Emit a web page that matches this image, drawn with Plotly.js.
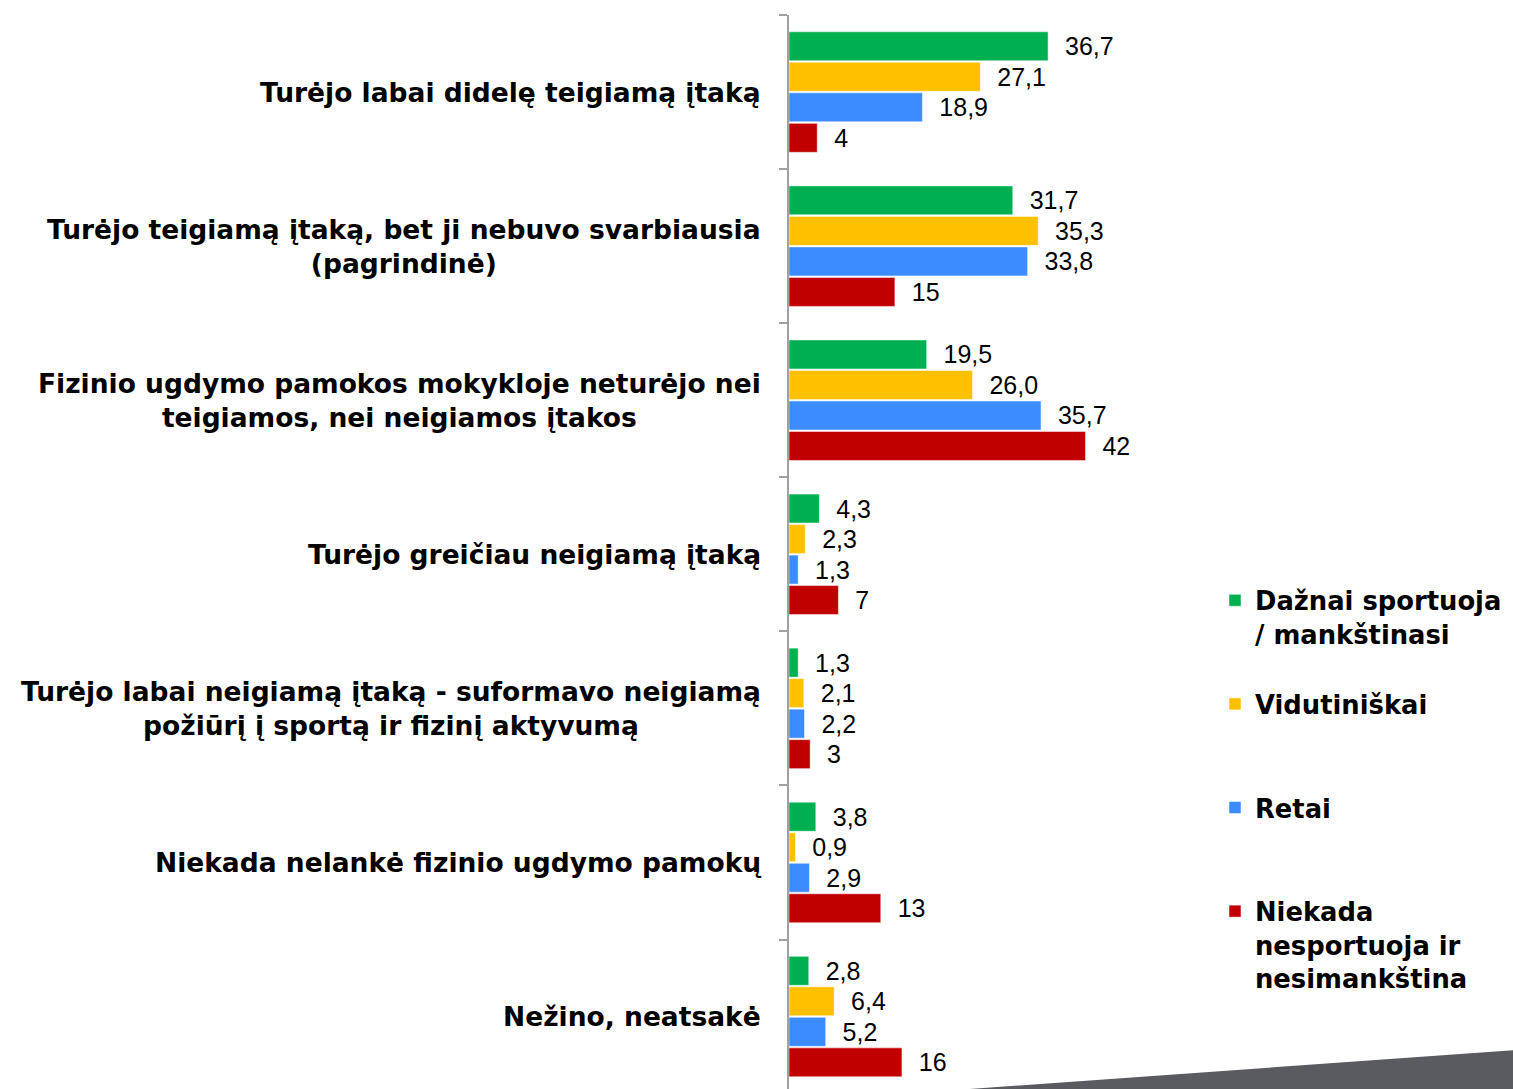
<!DOCTYPE html>
<html><head><meta charset="utf-8">
<script src="https://cdn.plot.ly/plotly-3.0.1.min.js"></script>
<style>html,body{margin:0;padding:0;background:#fff}#chart{width:1513px;height:1089px}</style>
</head><body><div id="chart"></div>
<script>
const categories = [
  "Turėjo labai didelę teigiamą įtaką",
  "Turėjo teigiamą įtaką, bet ji nebuvo svarbiausia<br>(pagrindinė)",
  "Fizinio ugdymo pamokos mokykloje neturėjo nei<br>teigiamos, nei neigiamos įtakos",
  "Turėjo greičiau neigiamą įtaką",
  "Turėjo labai neigiamą įtaką - suformavo neigiamą<br>požiūrį į sportą ir fizinį aktyvumą",
  "Niekada nelankė fizinio ugdymo pamokų",
  "Nežino, neatsakė"
];
const seriesNames = [
  "Dažnai sportuoja<br>/ mankštinasi<br>\u00A0",
  "Vidutiniškai<br>\u00A0<br>\u00A0",
  "Retai<br>\u00A0<br>\u00A0",
  "Niekada<br>nesportuoja ir<br>nesimankština"
];
const dazniai = [36.7, 31.7, 19.5, 4.3, 1.3, 3.8, 2.8];
const vidutiniskai = [27.1, 35.3, 26.0, 2.3, 2.1, 0.9, 6.4];
const retai = [18.9, 33.8, 35.7, 1.3, 2.2, 2.9, 5.2];
const niekada = [4, 15, 42, 7, 3, 13, 16];

const seriesValues = [dazniai, vidutiniskai, retai, niekada];
const seriesColors = ["#00B050", "#FFC000", "#3C8CFF", "#C00000"];
const seriesFormats = [".1f", ".1f", ".1f", ".0f"];

const traces = seriesValues.map((vals, i) => ({
  type: "bar",
  orientation: "h",
  name: seriesNames[i],
  x: vals,
  y: categories,
  marker: {color: seriesColors[i], line: {color: "#ffffff", width: 0.5}},
  texttemplate: "\u00A0\u00A0%{x:" + seriesFormats[i] + "}",
  textposition: "outside",
  textfont: {family: "Liberation Sans, Arial, sans-serif", size: 25, color: "#000"},
  cliponaxis: false,
  constraintext: "none",
  hoverinfo: "none"
}));

const annotations = categories.map(c => ({
  xref: "paper", yref: "y", x: 0, y: c,
  xanchor: "right", yanchor: "middle", xshift: -26,
  align: "center", showarrow: false, text: c,
  font: {family: "DejaVu Sans, sans-serif", size: 26.5, weight: "bold", color: "#000"}
}));

const W = 1513, H = 1089;
const plotW = 353.5, plotH = 1074, plotL = 789;
const layout = {
  width: W, height: H,
  margin: {l: plotL, r: W - plotL - plotW, t: 15, b: 0, autoexpand: false},
  paper_bgcolor: "#fff", plot_bgcolor: "#fff",
  separators: ", ",
  barmode: "group", bargap: 0.208, bargroupgap: 0.05,
  showlegend: true,
  legend: {
    x: 1215 / W, xref: "container", xanchor: "left",
    y: 1 - 577 / H, yref: "container", yanchor: "top",
    valign: "top", tracegroupgap: 0,
    font: {family: "DejaVu Sans, sans-serif", size: 25.8, weight: "bold", color: "#000"},
    bgcolor: "rgba(0,0,0,0)"
  },
  xaxis: {range: [0, 50], showgrid: false, zeroline: false, showticklabels: false, showline: false, ticks: "", fixedrange: true},
  yaxis: {
    type: "category", range: [6.47, -0.5],
    showline: true, linecolor: "#A0A0A0", linewidth: 2,
    ticks: "outside", tickson: "boundaries", ticklen: 8, tickwidth: 2, tickcolor: "#A0A0A0",
    showticklabels: false, showgrid: false, zeroline: false, fixedrange: true
  },
  annotations: annotations,
  shapes: [{
    type: "path", xref: "paper", yref: "paper", layer: "above",
    path: "M " + ((970 - plotL) / plotW) + " 0 L " + ((1530 - plotL) / plotW) + " " + ((H - 1049) / plotH) +
          " L " + ((1530 - plotL) / plotW) + " -0.02 L " + ((970 - plotL) / plotW) + " -0.02 Z",
    fillcolor: "#5A5B5F", line: {width: 0}
  }]
};

Plotly.newPlot("chart", traces, layout, {displayModeBar: false, staticPlot: true});
</script>
</body></html>
